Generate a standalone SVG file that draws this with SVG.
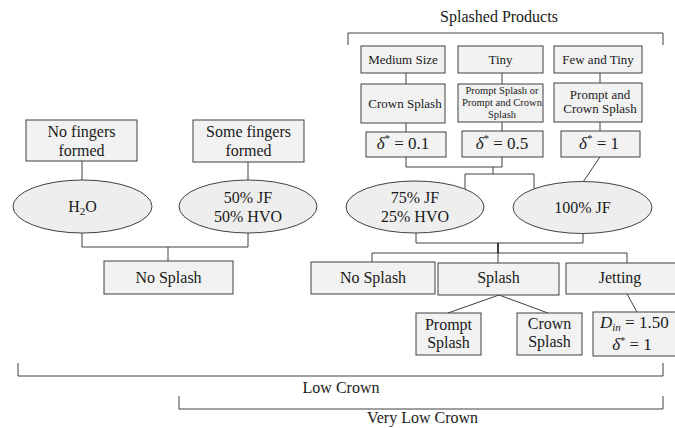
<svg xmlns="http://www.w3.org/2000/svg" width="675" height="428" viewBox="0 0 675 428">
<style>
text{font-family:"Liberation Serif","Times New Roman",serif;fill:#1a1a1a;font-size:16px;text-anchor:middle}
.box{fill:#f2f2f2;stroke:#404040;stroke-width:1}
.ell{fill:#eeeeee;stroke:#404040;stroke-width:1}
.ln{fill:none;stroke:#404040;stroke-width:1}
.s13{font-size:13px}
.s10{font-size:10.5px}
.m{font-size:17px}
.i{font-style:italic}
</style>
<rect width="675" height="428" fill="#ffffff"/>
<g id="connectors">
<path class="ln" d="M82 161V181M248 162V181M82 233V247H248V233M168 247V261"/>
<path class="ln" d="M348 45V33H663V45"/>
<path class="ln" d="M406 73V84M406 123V132M502 73V84M502 122V131M600 73V83M600 122V131"/>
<path class="ln" d="M406 157V167H502V157M493 167V174M465 190V174H534V190M600 157L583 182"/>
<path class="ln" d="M416 233V243H583V233M372 263V253H627V263M498 253V263"/>
<path d="M498 243V253" stroke="#111" stroke-width="1.6" fill="none"/>
<path class="ln" d="M499 295L448 313M499 295L548 313M627 294L637 312"/>
<path class="ln" d="M18 363V376H663V363M179 396V409H663V396"/>
</g>
<g id="label-splashed-products"><text x="499" y="22">Splashed Products</text></g>
<g id="n-medium-size"><rect class="box" x="361" y="46" width="84" height="27"/><text class="s13" x="403" y="64">Medium Size</text></g>
<g id="n-tiny"><rect class="box" x="458" y="46" width="85" height="27"/><text class="s13" x="500.5" y="64">Tiny</text></g>
<g id="n-few-tiny"><rect class="box" x="554" y="46" width="88" height="27"/><text class="s13" x="598" y="64">Few and Tiny</text></g>
<g id="n-crown-splash"><rect class="box" x="361" y="84" width="84" height="39"/><text class="s13" x="405" y="108">Crown Splash</text></g>
<g id="n-prompt-or"><rect class="box" x="458" y="84" width="85" height="38"/><text class="s10" x="502" y="94">Prompt Splash or</text><text class="s10" x="502" y="106">Prompt and Crown</text><text class="s10" x="502" y="118">Splash</text></g>
<g id="n-prompt-and-crown"><rect class="box" x="554" y="83" width="88" height="39"/><text class="s13" x="600" y="99">Prompt and</text><text class="s13" x="600" y="113">Crown Splash</text></g>
<g id="n-d01"><rect class="box" x="366" y="132" width="80" height="25"/><text class="m" x="403" y="149"><tspan class="i">δ</tspan><tspan font-size="11" dy="-7">*</tspan><tspan dy="7"> = 0.1</tspan></text></g>
<g id="n-d05"><rect class="box" x="462" y="131" width="81" height="26"/><text class="m" x="502" y="149"><tspan class="i">δ</tspan><tspan font-size="11" dy="-7">*</tspan><tspan dy="7"> = 0.5</tspan></text></g>
<g id="n-d1"><rect class="box" x="561" y="131" width="79" height="26"/><text class="m" x="599" y="149"><tspan class="i">δ</tspan><tspan font-size="11" dy="-7">*</tspan><tspan dy="7"> = 1</tspan></text></g>
<g id="n-no-fingers"><rect class="box" x="26" y="120" width="111" height="41"/><text x="81.5" y="137">No fingers</text><text x="81.5" y="156">formed</text></g>
<g id="n-some-fingers"><rect class="box" x="193" y="120" width="111" height="42"/><text x="248.5" y="137">Some fingers</text><text x="248.5" y="156">formed</text></g>
<g id="n-h2o"><ellipse class="ell" cx="82.5" cy="206.5" rx="69.5" ry="26.5"/><text x="82.5" y="212">H<tspan font-size="11" dy="3">2</tspan><tspan dy="-3">O</tspan></text></g>
<g id="n-50jf"><ellipse class="ell" cx="248" cy="206.5" rx="69" ry="26.5"/><text x="248" y="203">50% JF</text><text x="248" y="222">50% HVO</text></g>
<g id="n-no-splash-left"><rect class="box" x="104" y="261" width="129" height="33"/><text x="168.5" y="283">No Splash</text></g>
<g id="n-75jf"><ellipse class="ell" cx="415" cy="207" rx="69" ry="26"/><text x="415" y="203">75% JF</text><text x="415" y="222">25% HVO</text></g>
<g id="n-100jf"><ellipse class="ell" cx="582.5" cy="207.5" rx="69.5" ry="26"/><text x="582.5" y="213">100% JF</text></g>
<g id="n-no-splash-right"><rect class="box" x="311" y="262" width="124" height="32"/><text x="373" y="283">No Splash</text></g>
<g id="n-splash"><rect class="box" x="438" y="263" width="121" height="32"/><text x="498.5" y="283">Splash</text></g>
<g id="n-jetting"><rect class="box" x="566" y="263" width="112" height="31"/><text x="620" y="283">Jetting</text></g>
<g id="n-prompt-splash"><rect class="box" x="416" y="313" width="65" height="42"/><text x="448.5" y="330">Prompt</text><text x="448.5" y="348">Splash</text></g>
<g id="n-crown-splash-2"><rect class="box" x="517" y="313" width="65" height="42"/><text x="549.5" y="329">Crown</text><text x="549.5" y="347">Splash</text></g>
<g id="n-din"><rect class="box" x="593" y="312" width="90" height="44"/><text class="m" x="600" y="328" style="text-anchor:start"><tspan class="i">D</tspan><tspan class="i" font-size="11" dy="3">in</tspan><tspan dy="-3"> = 1.50</tspan></text><text class="m" x="632" y="350"><tspan class="i">δ</tspan><tspan font-size="10" dy="-6">*</tspan><tspan dy="6"> = 1</tspan></text></g>
<g id="label-low-crown"><text x="341" y="393">Low Crown</text></g>
<g id="label-very-low-crown"><text x="422.5" y="423">Very Low Crown</text></g>
</svg>
